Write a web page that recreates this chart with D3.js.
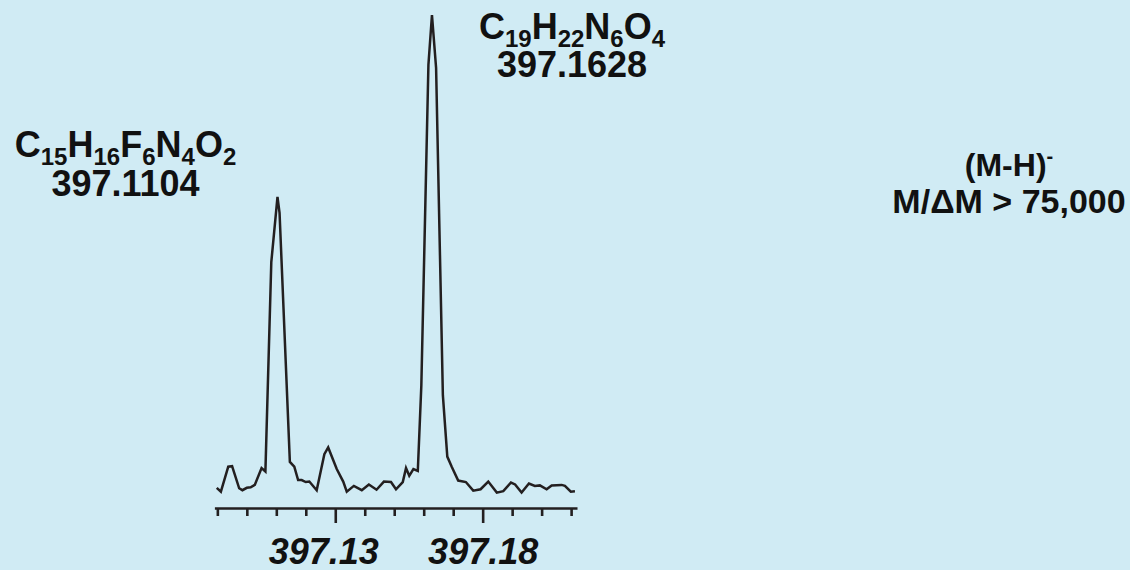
<!DOCTYPE html>
<html>
<head>
<meta charset="utf-8">
<script src="https://cdn.jsdelivr.net/npm/d3@7"></script>
<style>
  html, body { margin: 0; padding: 0; background: #d0ebf4; }
  svg { display: block; }
  text { font-family: "Liberation Sans", Arial, Helvetica, sans-serif; font-weight: bold; fill: #111; }
</style>
</head>
<body>
<svg id="chart" width="1130" height="570"></svg>
<script>
// High-resolution spectrum around m/z 397 (profile data)
const mz = [
  397.0898, 397.0912, 397.0937, 397.0950, 397.0974, 397.0985, 397.1000, 397.1013,
  397.1027, 397.1050, 397.1063, 397.1083, 397.1104, 397.1111, 397.1146, 397.1161,
  397.1174, 397.1186, 397.1200, 397.1212, 397.1237, 397.1263, 397.1276, 397.1305,
  397.1327, 397.1339, 397.1363, 397.1390, 397.1414, 397.1440, 397.1465, 397.1489,
  397.1506, 397.1529, 397.1540, 397.1551, 397.1565, 397.1580, 397.1592, 397.1616,
  397.1628, 397.1642, 397.1665, 397.1680, 397.1695, 397.1717, 397.1743, 397.1768,
  397.1793, 397.1819, 397.1848, 397.1870, 397.1896, 397.1910, 397.1932, 397.1957,
  397.1977, 397.1994, 397.2017, 397.2034, 397.2068, 397.2079, 397.2099, 397.2113
];
const intensity = [
  1.5, 0.7, 5.9, 6.0, 1.4, 1.0, 1.5, 1.6,
  2.1, 5.6, 4.9, 48.5, 62.1, 58.8, 6.9, 5.9,
  3.1, 3.1, 2.7, 2.8, 1.0, 8.5, 9.9, 5.4,
  2.8, 0.7, 1.9, 1.0, 2.2, 1.1, 2.8, 2.7,
  1.2, 2.7, 5.6, 4.0, 5.4, 5.0, 22.9, 89.6,
  100, 89.0, 20.8, 8.0, 5.9, 3.0, 2.7, 0.9,
  1.2, 2.8, 0.5, 0.8, 2.6, 2.2, 0.5, 2.4,
  1.9, 2.0, 1.2, 2.0, 2.1, 1.9, 0.7, 0.8
];

// Axis ticks every 0.01, labelled at two positions
const tickValues = d3.range(39709, 39722).map(v => v / 100);
const labelledTicks = [397.13, 397.18];

// Peak annotations
const peakLabels = [
  { formula: [["C", "15"], ["H", "16"], ["F", "6"], ["N", "4"], ["O", "2"]], mass: "397.1104" },
  { formula: [["C", "19"], ["H", "22"], ["N", "6"], ["O", "4"]], mass: "397.1628" }
];
const ionLabel = "(M-H)";
const resolutionLabel = "M/\u0394M > 75,000";

const svg = d3.select("#chart");
const ink = "#231f20";

const x = d3.scaleLinear().domain([397.089, 397.212]).range([214.4, 577]);
const y = d3.scaleLinear().domain([0, 100]).range([495, 15]);

// Spectrum trace
const line = d3.line()
  .x((d, i) => x(mz[i]))
  .y(d => y(d));

svg.append("path")
  .datum(intensity)
  .attr("d", line)
  .attr("fill", "none")
  .attr("stroke", ink)
  .attr("stroke-width", 2.5)
  .attr("stroke-linejoin", "miter");

// m/z axis
const isMajor = v => labelledTicks.some(t => Math.abs(t - v) < 1e-6);
const axis = d3.axisBottom(x)
  .tickValues(tickValues)
  .tickSizeInner(8)
  .tickSizeOuter(0)
  .tickFormat(v => isMajor(v) ? d3.format(".2f")(v) : "");

const gAxis = svg.append("g")
  .attr("transform", "translate(0,508)")
  .call(axis);

gAxis.select(".domain").attr("stroke", ink).attr("stroke-width", 2.6);
gAxis.selectAll(".tick line")
  .attr("stroke", ink)
  .attr("stroke-width", 2.6)
  .attr("y2", v => isMajor(v) ? 15 : 8);
gAxis.selectAll(".tick text")
  .attr("y", 56)
  .attr("dy", 0)
  .attr("dx", v => Math.abs(v - 397.13) < 1e-6 ? -12 : 0)
  .attr("fill", "#111")
  .style("font-family", "'Liberation Sans', Arial, sans-serif")
  .style("font-weight", "bold")
  .style("font-style", "italic")
  .style("font-size", "36px");

// Formula (with subscripted atom counts) + exact mass above each peak
function formulaLabel(lbl, cx, baseline) {
  const t = svg.append("text")
    .attr("x", cx)
    .attr("y", baseline)
    .attr("text-anchor", "middle")
    .style("font-size", "36px");
  lbl.formula.forEach(([el, n], i) => {
    t.append("tspan").attr("dy", i === 0 ? 0 : -8).text(el);
    t.append("tspan").attr("dy", 8).style("font-size", "24px").text(n);
  });
  svg.append("text")
    .attr("x", cx)
    .attr("y", baseline + 38.5)
    .attr("text-anchor", "middle")
    .style("font-size", "36px")
    .text(lbl.mass);
}

formulaLabel(peakLabels[0], 125.5, 157);
formulaLabel(peakLabels[1], 572, 38.5);

// Ion type and resolving power
const ion = svg.append("text")
  .attr("x", 1009)
  .attr("y", 176)
  .attr("text-anchor", "middle")
  .style("font-size", "32px");
ion.append("tspan").text(ionLabel);
ion.append("tspan").attr("dy", -13).style("font-size", "20px").text("-");

svg.append("text")
  .attr("x", 1009)
  .attr("y", 213)
  .attr("text-anchor", "middle")
  .style("font-size", "34px")
  .text(resolutionLabel);
</script>
</body>
</html>
